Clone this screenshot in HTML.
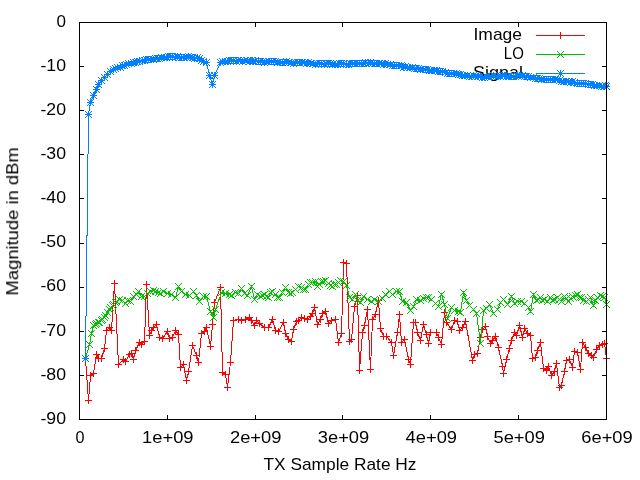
<!DOCTYPE html><html><head><meta charset="utf-8"><title>plot</title><style>html,body{margin:0;padding:0;background:#fff}svg{display:block}text{font-family:"Liberation Sans",sans-serif;fill:#000}.t{opacity:.999}</style></head><body>
<svg width="640" height="480" viewBox="0 0 640 480">
<rect width="640" height="480" fill="#fff"/>
<defs><path id="p" d="M-3 0h7v1h-7zM0 -3h1v7h-1z"/><path id="x" d="M-3 -3h1v1h-1zM-2 -2h1v1h-1zM-1 -1h1v1h-1zM0 0h1v1h-1zM1 1h1v1h-1zM2 2h1v1h-1zM3 3h1v1h-1zM-3 3h1v1h-1zM-2 2h1v1h-1zM-1 1h1v1h-1zM1 -1h1v1h-1zM2 -2h1v1h-1zM3 -3h1v1h-1z"/><path id="s" d="M-3 0h7v1h-7zM0 -3h1v7h-1zM-3 -3h1v1h-1zM-2 -2h1v1h-1zM-1 -1h1v1h-1zM0 0h1v1h-1zM1 1h1v1h-1zM2 2h1v1h-1zM3 3h1v1h-1zM-3 3h1v1h-1zM-2 2h1v1h-1zM-1 1h1v1h-1zM1 -1h1v1h-1zM2 -2h1v1h-1zM3 -3h1v1h-1z"/></defs>
<g class="t">
<text x="66" y="26.7" font-size="16.4" text-anchor="end" textLength="9.5" lengthAdjust="spacingAndGlyphs">0</text>
<text x="66" y="70.8" font-size="16.4" text-anchor="end" textLength="25.6" lengthAdjust="spacingAndGlyphs">-10</text>
<text x="66" y="114.9" font-size="16.4" text-anchor="end" textLength="25.6" lengthAdjust="spacingAndGlyphs">-20</text>
<text x="66" y="159.0" font-size="16.4" text-anchor="end" textLength="25.6" lengthAdjust="spacingAndGlyphs">-30</text>
<text x="66" y="203.1" font-size="16.4" text-anchor="end" textLength="25.6" lengthAdjust="spacingAndGlyphs">-40</text>
<text x="66" y="247.3" font-size="16.4" text-anchor="end" textLength="25.6" lengthAdjust="spacingAndGlyphs">-50</text>
<text x="66" y="291.4" font-size="16.4" text-anchor="end" textLength="25.6" lengthAdjust="spacingAndGlyphs">-60</text>
<text x="66" y="335.5" font-size="16.4" text-anchor="end" textLength="25.6" lengthAdjust="spacingAndGlyphs">-70</text>
<text x="66" y="379.6" font-size="16.4" text-anchor="end" textLength="25.6" lengthAdjust="spacingAndGlyphs">-80</text>
<text x="66" y="423.7" font-size="16.4" text-anchor="end" textLength="25.6" lengthAdjust="spacingAndGlyphs">-90</text>
<text x="80.0" y="442.7" font-size="16.4" text-anchor="middle" textLength="9" lengthAdjust="spacingAndGlyphs">0</text>
<text x="167.8" y="442.7" font-size="16.4" text-anchor="middle" textLength="51.5" lengthAdjust="spacingAndGlyphs">1e+09</text>
<text x="255.7" y="442.7" font-size="16.4" text-anchor="middle" textLength="51.5" lengthAdjust="spacingAndGlyphs">2e+09</text>
<text x="343.5" y="442.7" font-size="16.4" text-anchor="middle" textLength="51.5" lengthAdjust="spacingAndGlyphs">3e+09</text>
<text x="431.3" y="442.7" font-size="16.4" text-anchor="middle" textLength="51.5" lengthAdjust="spacingAndGlyphs">4e+09</text>
<text x="519.2" y="442.7" font-size="16.4" text-anchor="middle" textLength="51.5" lengthAdjust="spacingAndGlyphs">5e+09</text>
<text x="607.0" y="442.7" font-size="16.4" text-anchor="middle" textLength="51.5" lengthAdjust="spacingAndGlyphs">6e+09</text>
<text x="340" y="470.4" font-size="16.4" text-anchor="middle" textLength="153" lengthAdjust="spacingAndGlyphs">TX Sample Rate Hz</text>
<text transform="translate(18.2 221.4) rotate(-90)" font-size="16.4" text-anchor="middle" textLength="148.4" lengthAdjust="spacingAndGlyphs">Magnitude in dBm</text>
<text x="522" y="40" font-size="16.4" text-anchor="end" textLength="48.5" lengthAdjust="spacingAndGlyphs">Image</text>
<text x="523.8" y="59" font-size="16.4" text-anchor="end" textLength="20" lengthAdjust="spacingAndGlyphs">LO</text>
<text x="523" y="78" font-size="16.4" text-anchor="end" textLength="50" lengthAdjust="spacingAndGlyphs">Signal</text>
</g>
<g shape-rendering="crispEdges">
<path d="M536 35h49v1h-49z" fill="#f00"/>
<g fill="#f00"><use href="#p" x="560" y="35"/></g>
<polyline points="85.5,358.5 88.5,400.5 90.5,375.5 93.5,373.5 96.5,354.5 98.5,358.5 101.5,358.5 104.5,348.5 106.5,330.5 109.5,327.5 111.5,330.5 114.5,283.5 118.5,364.5 123.5,359.5 125.5,361.5 129.5,354.5 131.5,353.5 133.5,359.5 135.5,350.5 139.5,342.5 141.5,344.5 144.5,341.5 146.5,284.5 149.5,335.5 151.5,330.5 153.5,327.5 156.5,324.5 159.5,337.5 162.5,338.5 167.5,331.5 169.5,338.5 172.5,337.5 175.5,330.5 178.5,334.5 180.5,367.5 183.5,364.5 186.5,380.5 188.5,371.5 192.5,345.5 196.5,355.5 198.5,362.5 201.5,333.5 204.5,331.5 206.5,327.5 210.5,346.5 212.5,324.5 214.5,302.5 220.5,287.5 222.5,372.5 225.5,374.5 227.5,387.5 230.5,362.5 233.5,320.5 238.5,319.5 241.5,320.5 245.5,319.5 249.5,317.5 251.5,320.5 254.5,325.5 256.5,320.5 259.5,323.5 264.5,327.5 268.5,327.5 272.5,319.5 275.5,330.5 278.5,331.5 283.5,322.5 285.5,333.5 288.5,339.5 291.5,341.5 293.5,329.5 296.5,321.5 298.5,320.5 301.5,317.5 304.5,318.5 307.5,319.5 310.5,316.5 312.5,313.5 314.5,307.5 317.5,324.5 320.5,319.5 322.5,313.5 325.5,311.5 328.5,323.5 331.5,320.5 335.5,319.5 338.5,342.5 341.5,333.5 343.5,262.5 346.5,263.5 349.5,341.5 351.5,339.5 354.5,306.5 357.5,295.5 359.5,370.5 362.5,332.5 364.5,325.5 367.5,309.5 370.5,369.5 372.5,319.5 375.5,314.5 378.5,300.5 380.5,328.5 383.5,336.5 386.5,336.5 391.5,342.5 393.5,355.5 397.5,332.5 399.5,314.5 401.5,342.5 404.5,339.5 408.5,359.5 410.5,364.5 413.5,322.5 415.5,322.5 417.5,332.5 420.5,340.5 423.5,324.5 426.5,334.5 428.5,343.5 430.5,332.5 436.5,332.5 438.5,337.5 441.5,344.5 444.5,312.5 446.5,322.5 451.5,329.5 454.5,320.5 457.5,321.5 459.5,330.5 462.5,327.5 465.5,321.5 472.5,360.5 474.5,354.5 477.5,353.5 480.5,337.5 482.5,329.5 485.5,326.5 487.5,336.5 490.5,343.5 492.5,340.5 495.5,336.5 498.5,347.5 502.5,366.5 503.5,373.5 506.5,359.5 509.5,348.5 511.5,340.5 514.5,332.5 516.5,335.5 519.5,325.5 522.5,337.5 524.5,328.5 527.5,333.5 530.5,335.5 532.5,358.5 535.5,357.5 537.5,350.5 540.5,342.5 543.5,368.5 546.5,370.5 548.5,366.5 551.5,375.5 554.5,371.5 556.5,363.5 559.5,387.5 561.5,385.5 564.5,371.5 566.5,360.5 569.5,359.5 572.5,367.5 574.5,351.5 577.5,352.5 580.5,369.5 582.5,342.5 585.5,347.5 588.5,353.5 591.5,355.5 593.5,357.5 596.5,349.5 599.5,345.5 602.5,344.5 604.5,343.5 606.5,358.5" fill="none" stroke="#f00" stroke-width="1"/>
<g fill="#f00"><use href="#p" x="85" y="358"/><use href="#p" x="88" y="400"/><use href="#p" x="90" y="375"/><use href="#p" x="93" y="373"/><use href="#p" x="96" y="354"/><use href="#p" x="98" y="358"/><use href="#p" x="101" y="358"/><use href="#p" x="104" y="348"/><use href="#p" x="106" y="330"/><use href="#p" x="109" y="327"/><use href="#p" x="111" y="330"/><use href="#p" x="114" y="283"/><use href="#p" x="118" y="364"/><use href="#p" x="123" y="359"/><use href="#p" x="125" y="361"/><use href="#p" x="129" y="354"/><use href="#p" x="131" y="353"/><use href="#p" x="133" y="359"/><use href="#p" x="135" y="350"/><use href="#p" x="139" y="342"/><use href="#p" x="141" y="344"/><use href="#p" x="144" y="341"/><use href="#p" x="146" y="284"/><use href="#p" x="149" y="335"/><use href="#p" x="151" y="330"/><use href="#p" x="153" y="327"/><use href="#p" x="156" y="324"/><use href="#p" x="159" y="337"/><use href="#p" x="162" y="338"/><use href="#p" x="167" y="331"/><use href="#p" x="169" y="338"/><use href="#p" x="172" y="337"/><use href="#p" x="175" y="330"/><use href="#p" x="178" y="334"/><use href="#p" x="180" y="367"/><use href="#p" x="183" y="364"/><use href="#p" x="186" y="380"/><use href="#p" x="188" y="371"/><use href="#p" x="192" y="345"/><use href="#p" x="196" y="355"/><use href="#p" x="198" y="362"/><use href="#p" x="201" y="333"/><use href="#p" x="204" y="331"/><use href="#p" x="206" y="327"/><use href="#p" x="210" y="346"/><use href="#p" x="212" y="324"/><use href="#p" x="214" y="302"/><use href="#p" x="220" y="287"/><use href="#p" x="222" y="372"/><use href="#p" x="225" y="374"/><use href="#p" x="227" y="387"/><use href="#p" x="230" y="362"/><use href="#p" x="233" y="320"/><use href="#p" x="238" y="319"/><use href="#p" x="241" y="320"/><use href="#p" x="245" y="319"/><use href="#p" x="249" y="317"/><use href="#p" x="251" y="320"/><use href="#p" x="254" y="325"/><use href="#p" x="256" y="320"/><use href="#p" x="259" y="323"/><use href="#p" x="264" y="327"/><use href="#p" x="268" y="327"/><use href="#p" x="272" y="319"/><use href="#p" x="275" y="330"/><use href="#p" x="278" y="331"/><use href="#p" x="283" y="322"/><use href="#p" x="285" y="333"/><use href="#p" x="288" y="339"/><use href="#p" x="291" y="341"/><use href="#p" x="293" y="329"/><use href="#p" x="296" y="321"/><use href="#p" x="298" y="320"/><use href="#p" x="301" y="317"/><use href="#p" x="304" y="318"/><use href="#p" x="307" y="319"/><use href="#p" x="310" y="316"/><use href="#p" x="312" y="313"/><use href="#p" x="314" y="307"/><use href="#p" x="317" y="324"/><use href="#p" x="320" y="319"/><use href="#p" x="322" y="313"/><use href="#p" x="325" y="311"/><use href="#p" x="328" y="323"/><use href="#p" x="331" y="320"/><use href="#p" x="335" y="319"/><use href="#p" x="338" y="342"/><use href="#p" x="341" y="333"/><use href="#p" x="343" y="262"/><use href="#p" x="346" y="263"/><use href="#p" x="349" y="341"/><use href="#p" x="351" y="339"/><use href="#p" x="354" y="306"/><use href="#p" x="357" y="295"/><use href="#p" x="359" y="370"/><use href="#p" x="362" y="332"/><use href="#p" x="364" y="325"/><use href="#p" x="367" y="309"/><use href="#p" x="370" y="369"/><use href="#p" x="372" y="319"/><use href="#p" x="375" y="314"/><use href="#p" x="378" y="300"/><use href="#p" x="380" y="328"/><use href="#p" x="383" y="336"/><use href="#p" x="386" y="336"/><use href="#p" x="391" y="342"/><use href="#p" x="393" y="355"/><use href="#p" x="397" y="332"/><use href="#p" x="399" y="314"/><use href="#p" x="401" y="342"/><use href="#p" x="404" y="339"/><use href="#p" x="408" y="359"/><use href="#p" x="410" y="364"/><use href="#p" x="413" y="322"/><use href="#p" x="415" y="322"/><use href="#p" x="417" y="332"/><use href="#p" x="420" y="340"/><use href="#p" x="423" y="324"/><use href="#p" x="426" y="334"/><use href="#p" x="428" y="343"/><use href="#p" x="430" y="332"/><use href="#p" x="436" y="332"/><use href="#p" x="438" y="337"/><use href="#p" x="441" y="344"/><use href="#p" x="444" y="312"/><use href="#p" x="446" y="322"/><use href="#p" x="451" y="329"/><use href="#p" x="454" y="320"/><use href="#p" x="457" y="321"/><use href="#p" x="459" y="330"/><use href="#p" x="462" y="327"/><use href="#p" x="465" y="321"/><use href="#p" x="472" y="360"/><use href="#p" x="474" y="354"/><use href="#p" x="477" y="353"/><use href="#p" x="480" y="337"/><use href="#p" x="482" y="329"/><use href="#p" x="485" y="326"/><use href="#p" x="487" y="336"/><use href="#p" x="490" y="343"/><use href="#p" x="492" y="340"/><use href="#p" x="495" y="336"/><use href="#p" x="498" y="347"/><use href="#p" x="502" y="366"/><use href="#p" x="503" y="373"/><use href="#p" x="506" y="359"/><use href="#p" x="509" y="348"/><use href="#p" x="511" y="340"/><use href="#p" x="514" y="332"/><use href="#p" x="516" y="335"/><use href="#p" x="519" y="325"/><use href="#p" x="522" y="337"/><use href="#p" x="524" y="328"/><use href="#p" x="527" y="333"/><use href="#p" x="530" y="335"/><use href="#p" x="532" y="358"/><use href="#p" x="535" y="357"/><use href="#p" x="537" y="350"/><use href="#p" x="540" y="342"/><use href="#p" x="543" y="368"/><use href="#p" x="546" y="370"/><use href="#p" x="548" y="366"/><use href="#p" x="551" y="375"/><use href="#p" x="554" y="371"/><use href="#p" x="556" y="363"/><use href="#p" x="559" y="387"/><use href="#p" x="561" y="385"/><use href="#p" x="564" y="371"/><use href="#p" x="566" y="360"/><use href="#p" x="569" y="359"/><use href="#p" x="572" y="367"/><use href="#p" x="574" y="351"/><use href="#p" x="577" y="352"/><use href="#p" x="580" y="369"/><use href="#p" x="582" y="342"/><use href="#p" x="585" y="347"/><use href="#p" x="588" y="353"/><use href="#p" x="591" y="355"/><use href="#p" x="593" y="357"/><use href="#p" x="596" y="349"/><use href="#p" x="599" y="345"/><use href="#p" x="602" y="344"/><use href="#p" x="604" y="343"/><use href="#p" x="606" y="358"/></g>
<path d="M536 54h49v1h-49z" fill="#00c000"/>
<g fill="#00c000"><use href="#x" x="560" y="54"/></g>
<polyline points="85.5,358.5 89.5,344.5 91.5,333.5 93.5,325.5 95.5,324.5 96.5,323.5 98.5,322.5 99.5,322.5 101.5,320.5 102.5,319.5 104.5,317.5 105.5,315.5 107.5,312.5 109.5,309.5 110.5,307.5 112.5,305.5 113.5,304.5 115.5,302.5 116.5,301.5 119.5,299.5 122.5,300.5 125.5,303.5 127.5,300.5 130.5,301.5 133.5,296.5 136.5,294.5 138.5,291.5 141.5,296.5 144.5,296.5 147.5,293.5 150.5,291.5 153.5,290.5 155.5,291.5 158.5,292.5 160.5,293.5 163.5,291.5 167.5,293.5 171.5,294.5 175.5,297.5 178.5,286.5 181.5,291.5 185.5,294.5 189.5,295.5 193.5,291.5 196.5,295.5 199.5,301.5 203.5,296.5 206.5,296.5 210.5,311.5 213.5,317.5 215.5,309.5 221.5,292.5 225.5,293.5 229.5,294.5 231.5,295.5 235.5,292.5 238.5,293.5 241.5,288.5 244.5,293.5 247.5,295.5 251.5,286.5 254.5,299.5 257.5,294.5 260.5,296.5 262.5,295.5 264.5,294.5 266.5,296.5 268.5,297.5 270.5,292.5 272.5,291.5 275.5,294.5 277.5,297.5 279.5,297.5 282.5,292.5 285.5,287.5 288.5,292.5 290.5,293.5 292.5,292.5 295.5,289.5 298.5,286.5 301.5,287.5 303.5,289.5 305.5,289.5 308.5,284.5 310.5,282.5 312.5,282.5 315.5,281.5 317.5,286.5 319.5,284.5 321.5,281.5 323.5,281.5 325.5,280.5 328.5,283.5 330.5,285.5 332.5,286.5 334.5,284.5 336.5,284.5 338.5,282.5 340.5,280.5 343.5,281.5 346.5,285.5 349.5,297.5 352.5,299.5 355.5,294.5 357.5,300.5 360.5,302.5 363.5,296.5 367.5,299.5 371.5,301.5 374.5,299.5 378.5,301.5 382.5,298.5 385.5,294.5 389.5,291.5 392.5,294.5 396.5,291.5 399.5,291.5 402.5,301.5 406.5,302.5 410.5,310.5 413.5,306.5 416.5,299.5 420.5,300.5 423.5,298.5 426.5,297.5 428.5,297.5 431.5,299.5 435.5,303.5 438.5,306.5 441.5,294.5 444.5,304.5 447.5,318.5 451.5,307.5 454.5,310.5 458.5,311.5 460.5,312.5 463.5,292.5 466.5,300.5 469.5,305.5 473.5,309.5 476.5,313.5 480.5,343.5 483.5,310.5 486.5,308.5 489.5,304.5 493.5,313.5 497.5,309.5 500.5,302.5 503.5,299.5 507.5,304.5 511.5,296.5 514.5,303.5 517.5,301.5 521.5,301.5 524.5,303.5 528.5,307.5 530.5,311.5 533.5,294.5 536.5,300.5 538.5,299.5 540.5,297.5 542.5,300.5 544.5,299.5 547.5,301.5 550.5,297.5 552.5,300.5 554.5,299.5 557.5,297.5 559.5,299.5 561.5,301.5 564.5,296.5 566.5,298.5 568.5,301.5 570.5,298.5 572.5,296.5 575.5,295.5 577.5,294.5 579.5,297.5 581.5,297.5 583.5,300.5 586.5,301.5 588.5,299.5 590.5,297.5 593.5,305.5 595.5,300.5 597.5,297.5 600.5,295.5 602.5,296.5 604.5,297.5 606.5,304.5" fill="none" stroke="#00c000" stroke-width="1"/>
<g fill="#00c000"><use href="#x" x="85" y="358"/><use href="#x" x="89" y="344"/><use href="#x" x="91" y="333"/><use href="#x" x="93" y="325"/><use href="#x" x="95" y="324"/><use href="#x" x="96" y="323"/><use href="#x" x="98" y="322"/><use href="#x" x="99" y="322"/><use href="#x" x="101" y="320"/><use href="#x" x="102" y="319"/><use href="#x" x="104" y="317"/><use href="#x" x="105" y="315"/><use href="#x" x="107" y="312"/><use href="#x" x="109" y="309"/><use href="#x" x="110" y="307"/><use href="#x" x="112" y="305"/><use href="#x" x="113" y="304"/><use href="#x" x="115" y="302"/><use href="#x" x="116" y="301"/><use href="#x" x="119" y="299"/><use href="#x" x="122" y="300"/><use href="#x" x="125" y="303"/><use href="#x" x="127" y="300"/><use href="#x" x="130" y="301"/><use href="#x" x="133" y="296"/><use href="#x" x="136" y="294"/><use href="#x" x="138" y="291"/><use href="#x" x="141" y="296"/><use href="#x" x="144" y="296"/><use href="#x" x="147" y="293"/><use href="#x" x="150" y="291"/><use href="#x" x="153" y="290"/><use href="#x" x="155" y="291"/><use href="#x" x="158" y="292"/><use href="#x" x="160" y="293"/><use href="#x" x="163" y="291"/><use href="#x" x="167" y="293"/><use href="#x" x="171" y="294"/><use href="#x" x="175" y="297"/><use href="#x" x="178" y="286"/><use href="#x" x="181" y="291"/><use href="#x" x="185" y="294"/><use href="#x" x="189" y="295"/><use href="#x" x="193" y="291"/><use href="#x" x="196" y="295"/><use href="#x" x="199" y="301"/><use href="#x" x="203" y="296"/><use href="#x" x="206" y="296"/><use href="#x" x="210" y="311"/><use href="#x" x="213" y="317"/><use href="#x" x="215" y="309"/><use href="#x" x="221" y="292"/><use href="#x" x="225" y="293"/><use href="#x" x="229" y="294"/><use href="#x" x="231" y="295"/><use href="#x" x="235" y="292"/><use href="#x" x="238" y="293"/><use href="#x" x="241" y="288"/><use href="#x" x="244" y="293"/><use href="#x" x="247" y="295"/><use href="#x" x="251" y="286"/><use href="#x" x="254" y="299"/><use href="#x" x="257" y="294"/><use href="#x" x="260" y="296"/><use href="#x" x="262" y="295"/><use href="#x" x="264" y="294"/><use href="#x" x="266" y="296"/><use href="#x" x="268" y="297"/><use href="#x" x="270" y="292"/><use href="#x" x="272" y="291"/><use href="#x" x="275" y="294"/><use href="#x" x="277" y="297"/><use href="#x" x="279" y="297"/><use href="#x" x="282" y="292"/><use href="#x" x="285" y="287"/><use href="#x" x="288" y="292"/><use href="#x" x="290" y="293"/><use href="#x" x="292" y="292"/><use href="#x" x="295" y="289"/><use href="#x" x="298" y="286"/><use href="#x" x="301" y="287"/><use href="#x" x="303" y="289"/><use href="#x" x="305" y="289"/><use href="#x" x="308" y="284"/><use href="#x" x="310" y="282"/><use href="#x" x="312" y="282"/><use href="#x" x="315" y="281"/><use href="#x" x="317" y="286"/><use href="#x" x="319" y="284"/><use href="#x" x="321" y="281"/><use href="#x" x="323" y="281"/><use href="#x" x="325" y="280"/><use href="#x" x="328" y="283"/><use href="#x" x="330" y="285"/><use href="#x" x="332" y="286"/><use href="#x" x="334" y="284"/><use href="#x" x="336" y="284"/><use href="#x" x="338" y="282"/><use href="#x" x="340" y="280"/><use href="#x" x="343" y="281"/><use href="#x" x="346" y="285"/><use href="#x" x="349" y="297"/><use href="#x" x="352" y="299"/><use href="#x" x="355" y="294"/><use href="#x" x="357" y="300"/><use href="#x" x="360" y="302"/><use href="#x" x="363" y="296"/><use href="#x" x="367" y="299"/><use href="#x" x="371" y="301"/><use href="#x" x="374" y="299"/><use href="#x" x="378" y="301"/><use href="#x" x="382" y="298"/><use href="#x" x="385" y="294"/><use href="#x" x="389" y="291"/><use href="#x" x="392" y="294"/><use href="#x" x="396" y="291"/><use href="#x" x="399" y="291"/><use href="#x" x="402" y="301"/><use href="#x" x="406" y="302"/><use href="#x" x="410" y="310"/><use href="#x" x="413" y="306"/><use href="#x" x="416" y="299"/><use href="#x" x="420" y="300"/><use href="#x" x="423" y="298"/><use href="#x" x="426" y="297"/><use href="#x" x="428" y="297"/><use href="#x" x="431" y="299"/><use href="#x" x="435" y="303"/><use href="#x" x="438" y="306"/><use href="#x" x="441" y="294"/><use href="#x" x="444" y="304"/><use href="#x" x="447" y="318"/><use href="#x" x="451" y="307"/><use href="#x" x="454" y="310"/><use href="#x" x="458" y="311"/><use href="#x" x="460" y="312"/><use href="#x" x="463" y="292"/><use href="#x" x="466" y="300"/><use href="#x" x="469" y="305"/><use href="#x" x="473" y="309"/><use href="#x" x="476" y="313"/><use href="#x" x="480" y="343"/><use href="#x" x="483" y="310"/><use href="#x" x="486" y="308"/><use href="#x" x="489" y="304"/><use href="#x" x="493" y="313"/><use href="#x" x="497" y="309"/><use href="#x" x="500" y="302"/><use href="#x" x="503" y="299"/><use href="#x" x="507" y="304"/><use href="#x" x="511" y="296"/><use href="#x" x="514" y="303"/><use href="#x" x="517" y="301"/><use href="#x" x="521" y="301"/><use href="#x" x="524" y="303"/><use href="#x" x="528" y="307"/><use href="#x" x="530" y="311"/><use href="#x" x="533" y="294"/><use href="#x" x="536" y="300"/><use href="#x" x="538" y="299"/><use href="#x" x="540" y="297"/><use href="#x" x="542" y="300"/><use href="#x" x="544" y="299"/><use href="#x" x="547" y="301"/><use href="#x" x="550" y="297"/><use href="#x" x="552" y="300"/><use href="#x" x="554" y="299"/><use href="#x" x="557" y="297"/><use href="#x" x="559" y="299"/><use href="#x" x="561" y="301"/><use href="#x" x="564" y="296"/><use href="#x" x="566" y="298"/><use href="#x" x="568" y="301"/><use href="#x" x="570" y="298"/><use href="#x" x="572" y="296"/><use href="#x" x="575" y="295"/><use href="#x" x="577" y="294"/><use href="#x" x="579" y="297"/><use href="#x" x="581" y="297"/><use href="#x" x="583" y="300"/><use href="#x" x="586" y="301"/><use href="#x" x="588" y="299"/><use href="#x" x="590" y="297"/><use href="#x" x="593" y="305"/><use href="#x" x="595" y="300"/><use href="#x" x="597" y="297"/><use href="#x" x="600" y="295"/><use href="#x" x="602" y="296"/><use href="#x" x="604" y="297"/><use href="#x" x="606" y="304"/></g>
<path d="M536 73h49v1h-49z" fill="#0080ff"/>
<g fill="#0080ff"><use href="#s" x="560" y="73"/></g>
<polyline points="85.5,358.5 88.5,114.5 90.5,102.5 93.5,95.5 96.5,89.5 98.5,84.5 101.5,80.5 104.5,77.5 107.5,74.5 110.5,71.5 113.5,69.5 115.5,68.5 117.5,67.5 120.5,67.5 122.5,65.5 124.5,65.5 126.5,64.5 128.5,63.5 131.5,63.5 133.5,62.5 135.5,62.5 137.5,61.5 139.5,61.5 142.5,60.5 144.5,60.5 146.5,59.5 148.5,59.5 150.5,59.5 153.5,59.5 155.5,58.5 157.5,58.5 159.5,58.5 161.5,57.5 164.5,57.5 166.5,57.5 168.5,56.5 170.5,56.5 172.5,56.5 175.5,57.5 177.5,56.5 179.5,57.5 181.5,57.5 183.5,57.5 186.5,57.5 188.5,56.5 190.5,57.5 192.5,57.5 194.5,58.5 197.5,57.5 199.5,58.5 201.5,60.5 203.5,61.5 206.5,62.5 209.5,75.5 212.5,84.5 214.5,75.5 220.5,62.5 222.5,61.5 225.5,61.5 227.5,61.5 229.5,60.5 231.5,60.5 233.5,60.5 236.5,61.5 238.5,60.5 240.5,60.5 242.5,61.5 244.5,60.5 247.5,60.5 249.5,61.5 251.5,60.5 253.5,61.5 255.5,60.5 258.5,61.5 260.5,61.5 262.5,61.5 264.5,62.5 266.5,61.5 269.5,61.5 271.5,61.5 273.5,61.5 275.5,61.5 277.5,62.5 280.5,62.5 282.5,62.5 284.5,62.5 286.5,61.5 288.5,62.5 291.5,62.5 293.5,63.5 295.5,62.5 297.5,62.5 299.5,62.5 302.5,62.5 304.5,62.5 306.5,63.5 308.5,62.5 310.5,63.5 313.5,63.5 315.5,64.5 317.5,63.5 319.5,63.5 321.5,63.5 324.5,64.5 326.5,63.5 328.5,63.5 330.5,63.5 332.5,64.5 335.5,64.5 337.5,64.5 339.5,63.5 341.5,63.5 343.5,63.5 346.5,64.5 348.5,64.5 350.5,63.5 352.5,63.5 354.5,63.5 357.5,63.5 359.5,63.5 361.5,63.5 363.5,63.5 365.5,62.5 368.5,63.5 370.5,62.5 372.5,63.5 374.5,63.5 376.5,63.5 379.5,63.5 381.5,63.5 383.5,64.5 385.5,63.5 387.5,64.5 390.5,64.5 392.5,65.5 394.5,65.5 396.5,65.5 398.5,65.5 401.5,65.5 403.5,67.5 405.5,66.5 407.5,67.5 409.5,67.5 412.5,67.5 414.5,68.5 416.5,68.5 418.5,68.5 420.5,69.5 423.5,69.5 425.5,69.5 427.5,69.5 429.5,70.5 431.5,70.5 434.5,70.5 436.5,70.5 438.5,71.5 440.5,71.5 442.5,71.5 445.5,72.5 447.5,73.5 449.5,73.5 451.5,73.5 453.5,73.5 456.5,73.5 458.5,74.5 460.5,74.5 462.5,75.5 464.5,75.5 467.5,75.5 469.5,76.5 471.5,76.5 473.5,75.5 475.5,76.5 478.5,76.5 480.5,76.5 482.5,77.5 484.5,77.5 486.5,76.5 489.5,76.5 491.5,76.5 493.5,75.5 495.5,76.5 497.5,76.5 500.5,76.5 502.5,75.5 504.5,75.5 506.5,76.5 508.5,76.5 511.5,76.5 513.5,76.5 515.5,76.5 517.5,75.5 519.5,75.5 522.5,75.5 524.5,76.5 526.5,76.5 528.5,76.5 530.5,77.5 533.5,77.5 535.5,78.5 537.5,78.5 539.5,78.5 541.5,79.5 544.5,79.5 546.5,79.5 548.5,79.5 550.5,79.5 552.5,79.5 555.5,79.5 557.5,79.5 559.5,80.5 561.5,81.5 563.5,81.5 566.5,81.5 568.5,81.5 570.5,82.5 572.5,81.5 574.5,82.5 577.5,83.5 579.5,83.5 581.5,83.5 583.5,83.5 585.5,83.5 588.5,84.5 590.5,84.5 592.5,84.5 594.5,85.5 596.5,85.5 599.5,85.5 601.5,86.5 603.5,86.5 605.5,85.5 606.5,86.5" fill="none" stroke="#0080ff" stroke-width="1"/>
<g fill="#0080ff"><use href="#s" x="85" y="358"/><use href="#s" x="88" y="114"/><use href="#s" x="90" y="102"/><use href="#s" x="93" y="95"/><use href="#s" x="96" y="89"/><use href="#s" x="98" y="84"/><use href="#s" x="101" y="80"/><use href="#s" x="104" y="77"/><use href="#s" x="107" y="74"/><use href="#s" x="110" y="71"/><use href="#s" x="113" y="69"/><use href="#s" x="115" y="68"/><use href="#s" x="117" y="67"/><use href="#s" x="120" y="67"/><use href="#s" x="122" y="65"/><use href="#s" x="124" y="65"/><use href="#s" x="126" y="64"/><use href="#s" x="128" y="63"/><use href="#s" x="131" y="63"/><use href="#s" x="133" y="62"/><use href="#s" x="135" y="62"/><use href="#s" x="137" y="61"/><use href="#s" x="139" y="61"/><use href="#s" x="142" y="60"/><use href="#s" x="144" y="60"/><use href="#s" x="146" y="59"/><use href="#s" x="148" y="59"/><use href="#s" x="150" y="59"/><use href="#s" x="153" y="59"/><use href="#s" x="155" y="58"/><use href="#s" x="157" y="58"/><use href="#s" x="159" y="58"/><use href="#s" x="161" y="57"/><use href="#s" x="164" y="57"/><use href="#s" x="166" y="57"/><use href="#s" x="168" y="56"/><use href="#s" x="170" y="56"/><use href="#s" x="172" y="56"/><use href="#s" x="175" y="57"/><use href="#s" x="177" y="56"/><use href="#s" x="179" y="57"/><use href="#s" x="181" y="57"/><use href="#s" x="183" y="57"/><use href="#s" x="186" y="57"/><use href="#s" x="188" y="56"/><use href="#s" x="190" y="57"/><use href="#s" x="192" y="57"/><use href="#s" x="194" y="58"/><use href="#s" x="197" y="57"/><use href="#s" x="199" y="58"/><use href="#s" x="201" y="60"/><use href="#s" x="203" y="61"/><use href="#s" x="206" y="62"/><use href="#s" x="209" y="75"/><use href="#s" x="212" y="84"/><use href="#s" x="214" y="75"/><use href="#s" x="220" y="62"/><use href="#s" x="222" y="61"/><use href="#s" x="225" y="61"/><use href="#s" x="227" y="61"/><use href="#s" x="229" y="60"/><use href="#s" x="231" y="60"/><use href="#s" x="233" y="60"/><use href="#s" x="236" y="61"/><use href="#s" x="238" y="60"/><use href="#s" x="240" y="60"/><use href="#s" x="242" y="61"/><use href="#s" x="244" y="60"/><use href="#s" x="247" y="60"/><use href="#s" x="249" y="61"/><use href="#s" x="251" y="60"/><use href="#s" x="253" y="61"/><use href="#s" x="255" y="60"/><use href="#s" x="258" y="61"/><use href="#s" x="260" y="61"/><use href="#s" x="262" y="61"/><use href="#s" x="264" y="62"/><use href="#s" x="266" y="61"/><use href="#s" x="269" y="61"/><use href="#s" x="271" y="61"/><use href="#s" x="273" y="61"/><use href="#s" x="275" y="61"/><use href="#s" x="277" y="62"/><use href="#s" x="280" y="62"/><use href="#s" x="282" y="62"/><use href="#s" x="284" y="62"/><use href="#s" x="286" y="61"/><use href="#s" x="288" y="62"/><use href="#s" x="291" y="62"/><use href="#s" x="293" y="63"/><use href="#s" x="295" y="62"/><use href="#s" x="297" y="62"/><use href="#s" x="299" y="62"/><use href="#s" x="302" y="62"/><use href="#s" x="304" y="62"/><use href="#s" x="306" y="63"/><use href="#s" x="308" y="62"/><use href="#s" x="310" y="63"/><use href="#s" x="313" y="63"/><use href="#s" x="315" y="64"/><use href="#s" x="317" y="63"/><use href="#s" x="319" y="63"/><use href="#s" x="321" y="63"/><use href="#s" x="324" y="64"/><use href="#s" x="326" y="63"/><use href="#s" x="328" y="63"/><use href="#s" x="330" y="63"/><use href="#s" x="332" y="64"/><use href="#s" x="335" y="64"/><use href="#s" x="337" y="64"/><use href="#s" x="339" y="63"/><use href="#s" x="341" y="63"/><use href="#s" x="343" y="63"/><use href="#s" x="346" y="64"/><use href="#s" x="348" y="64"/><use href="#s" x="350" y="63"/><use href="#s" x="352" y="63"/><use href="#s" x="354" y="63"/><use href="#s" x="357" y="63"/><use href="#s" x="359" y="63"/><use href="#s" x="361" y="63"/><use href="#s" x="363" y="63"/><use href="#s" x="365" y="62"/><use href="#s" x="368" y="63"/><use href="#s" x="370" y="62"/><use href="#s" x="372" y="63"/><use href="#s" x="374" y="63"/><use href="#s" x="376" y="63"/><use href="#s" x="379" y="63"/><use href="#s" x="381" y="63"/><use href="#s" x="383" y="64"/><use href="#s" x="385" y="63"/><use href="#s" x="387" y="64"/><use href="#s" x="390" y="64"/><use href="#s" x="392" y="65"/><use href="#s" x="394" y="65"/><use href="#s" x="396" y="65"/><use href="#s" x="398" y="65"/><use href="#s" x="401" y="65"/><use href="#s" x="403" y="67"/><use href="#s" x="405" y="66"/><use href="#s" x="407" y="67"/><use href="#s" x="409" y="67"/><use href="#s" x="412" y="67"/><use href="#s" x="414" y="68"/><use href="#s" x="416" y="68"/><use href="#s" x="418" y="68"/><use href="#s" x="420" y="69"/><use href="#s" x="423" y="69"/><use href="#s" x="425" y="69"/><use href="#s" x="427" y="69"/><use href="#s" x="429" y="70"/><use href="#s" x="431" y="70"/><use href="#s" x="434" y="70"/><use href="#s" x="436" y="70"/><use href="#s" x="438" y="71"/><use href="#s" x="440" y="71"/><use href="#s" x="442" y="71"/><use href="#s" x="445" y="72"/><use href="#s" x="447" y="73"/><use href="#s" x="449" y="73"/><use href="#s" x="451" y="73"/><use href="#s" x="453" y="73"/><use href="#s" x="456" y="73"/><use href="#s" x="458" y="74"/><use href="#s" x="460" y="74"/><use href="#s" x="462" y="75"/><use href="#s" x="464" y="75"/><use href="#s" x="467" y="75"/><use href="#s" x="469" y="76"/><use href="#s" x="471" y="76"/><use href="#s" x="473" y="75"/><use href="#s" x="475" y="76"/><use href="#s" x="478" y="76"/><use href="#s" x="480" y="76"/><use href="#s" x="482" y="77"/><use href="#s" x="484" y="77"/><use href="#s" x="486" y="76"/><use href="#s" x="489" y="76"/><use href="#s" x="491" y="76"/><use href="#s" x="493" y="75"/><use href="#s" x="495" y="76"/><use href="#s" x="497" y="76"/><use href="#s" x="500" y="76"/><use href="#s" x="502" y="75"/><use href="#s" x="504" y="75"/><use href="#s" x="506" y="76"/><use href="#s" x="508" y="76"/><use href="#s" x="511" y="76"/><use href="#s" x="513" y="76"/><use href="#s" x="515" y="76"/><use href="#s" x="517" y="75"/><use href="#s" x="519" y="75"/><use href="#s" x="522" y="75"/><use href="#s" x="524" y="76"/><use href="#s" x="526" y="76"/><use href="#s" x="528" y="76"/><use href="#s" x="530" y="77"/><use href="#s" x="533" y="77"/><use href="#s" x="535" y="78"/><use href="#s" x="537" y="78"/><use href="#s" x="539" y="78"/><use href="#s" x="541" y="79"/><use href="#s" x="544" y="79"/><use href="#s" x="546" y="79"/><use href="#s" x="548" y="79"/><use href="#s" x="550" y="79"/><use href="#s" x="552" y="79"/><use href="#s" x="555" y="79"/><use href="#s" x="557" y="79"/><use href="#s" x="559" y="80"/><use href="#s" x="561" y="81"/><use href="#s" x="563" y="81"/><use href="#s" x="566" y="81"/><use href="#s" x="568" y="81"/><use href="#s" x="570" y="82"/><use href="#s" x="572" y="81"/><use href="#s" x="574" y="82"/><use href="#s" x="577" y="83"/><use href="#s" x="579" y="83"/><use href="#s" x="581" y="83"/><use href="#s" x="583" y="83"/><use href="#s" x="585" y="83"/><use href="#s" x="588" y="84"/><use href="#s" x="590" y="84"/><use href="#s" x="592" y="84"/><use href="#s" x="594" y="85"/><use href="#s" x="596" y="85"/><use href="#s" x="599" y="85"/><use href="#s" x="601" y="86"/><use href="#s" x="603" y="86"/><use href="#s" x="605" y="85"/><use href="#s" x="606" y="86"/></g>
</g>
<g shape-rendering="crispEdges">
<rect x="79.5" y="22.5" width="527" height="397" fill="none" stroke="#000" stroke-width="1"/>
<path d="M80 66h4v1h-4zM602 66h4v1h-4zM80 110h4v1h-4zM602 110h4v1h-4zM80 154h4v1h-4zM602 154h4v1h-4zM80 198h4v1h-4zM602 198h4v1h-4zM80 243h4v1h-4zM602 243h4v1h-4zM80 287h4v1h-4zM602 287h4v1h-4zM80 331h4v1h-4zM602 331h4v1h-4zM80 375h4v1h-4zM602 375h4v1h-4zM167 415h1v4h-1zM167 23h1v4h-1zM255 415h1v4h-1zM255 23h1v4h-1zM342 415h1v4h-1zM342 23h1v4h-1zM430 415h1v4h-1zM430 23h1v4h-1zM518 415h1v4h-1zM518 23h1v4h-1z" fill="#000"/>
</g>
</svg></body></html>
